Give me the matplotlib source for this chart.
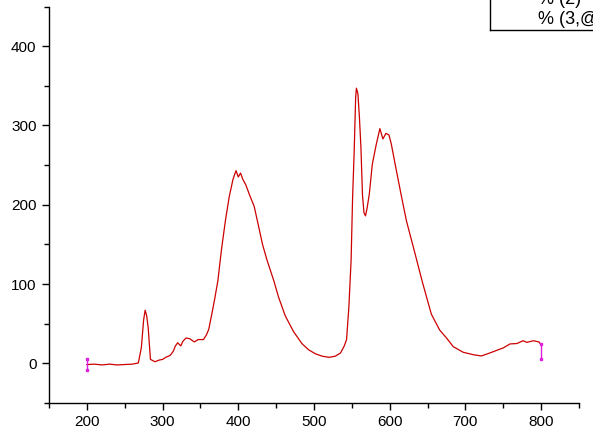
"""
Emission spectrum - recreation of an Origin-style line plot.
"""

import matplotlib.pyplot as plt
from matplotlib.lines import Line2D

plt.rcParams["font.family"] = ["Liberation Sans", "DejaVu Sans"]

# wavelength (nm) and intensity
wavelength = [
    200, 210, 220, 230, 240, 250, 260, 268, 272, 275, 277, 279, 281, 284,
    290, 295, 300, 305, 310, 314, 317, 320, 324, 327, 331, 336, 342, 347,
    354, 358, 361, 365, 369, 373, 378, 383, 388, 393, 397, 400, 403, 406,
    410, 415, 421, 427, 432, 438, 447, 453, 462, 473, 484, 493, 502, 511,
    520, 528, 535, 540, 543, 546, 549, 551, 553, 555, 556, 558, 560, 562,
    564, 566, 568, 570, 573, 577, 582, 587, 591, 595, 599, 602, 608, 615,
    622, 633, 643, 655, 666, 675, 684, 697, 710, 721, 732, 743, 750, 759,
    768, 776, 781, 790, 797, 800,
]
intensity = [
    -1.5, -1, -2, -1, -2, -1.5, -1, 0.5, 20, 55, 67, 60, 45, 5,
    2, 4, 5, 8, 10, 15, 22, 26, 22, 28, 32, 31, 27, 30,
    30, 36, 43, 62, 82, 104, 145, 180, 210, 232, 243, 235, 240, 232,
    225, 212, 198, 172, 150, 130, 104, 84, 60, 40, 25, 17, 12, 9,
    7.6, 9, 13, 22, 30, 70, 130, 210, 265, 335, 347, 340, 310, 272,
    213, 190, 186, 195, 213, 251, 275, 296, 283, 290, 288, 277, 247, 213,
    180, 140, 103, 62, 42, 32, 21, 14, 11, 9.3, 13, 17, 19.5, 24.5,
    25, 28.5, 26.5, 28.5, 27, 23.5,
]

# data-reader range markers at both ends of the curve
marker_x = [200, 800]
marker_lo = [-8, 6]
marker_hi = [5, 24]

legend_lines = ["% (2)", "% (3,@"]

fig = plt.figure(figsize=(5.93, 4.34), dpi=100)
ax = fig.add_axes([49 / 593, 1 - 403 / 434, 530 / 593, 396.5 / 434])

ax.plot(wavelength, intensity, color="#cc0000", linewidth=0.9)

for x, lo, hi in zip(marker_x, marker_lo, marker_hi):
    ax.plot([x, x], [lo, hi], color="#e020e0", linewidth=1.0,
            marker="s", markersize=1.5, markevery=[0, 1])

ax.set_xlim(150, 850)
ax.set_ylim(-50, 450)
ax.set_xticks(range(200, 801, 100))
ax.set_xticks(range(150, 851, 100), minor=True)
ax.set_yticks(range(0, 401, 100))
ax.set_yticks(range(-50, 451, 100), minor=True)

for side in ("top", "right"):
    ax.spines[side].set_visible(False)
for side in ("left", "bottom"):
    ax.spines[side].set_linewidth(1.0)

ax.tick_params(which="major", direction="out", length=5, width=1,
               labelsize=11, pad=4)
ax.tick_params(which="minor", direction="out", length=3.5, width=1)

# legend box cut off by the top-right corner
fig.add_artist(Line2D([490 / 593, 490 / 593], [1, 1 - 30 / 434],
                      color="black", linewidth=1, transform=fig.transFigure))
fig.add_artist(Line2D([490 / 593, 1], [1 - 30 / 434, 1 - 30 / 434],
                      color="black", linewidth=1, transform=fig.transFigure))
fig.text(538 / 593, 1 - 0 / 434, legend_lines[0], fontsize=13, va="center")
fig.text(538 / 593, 1 - 20 / 434, legend_lines[1], fontsize=13, va="center")

fig.savefig("out.png", dpi=100)
